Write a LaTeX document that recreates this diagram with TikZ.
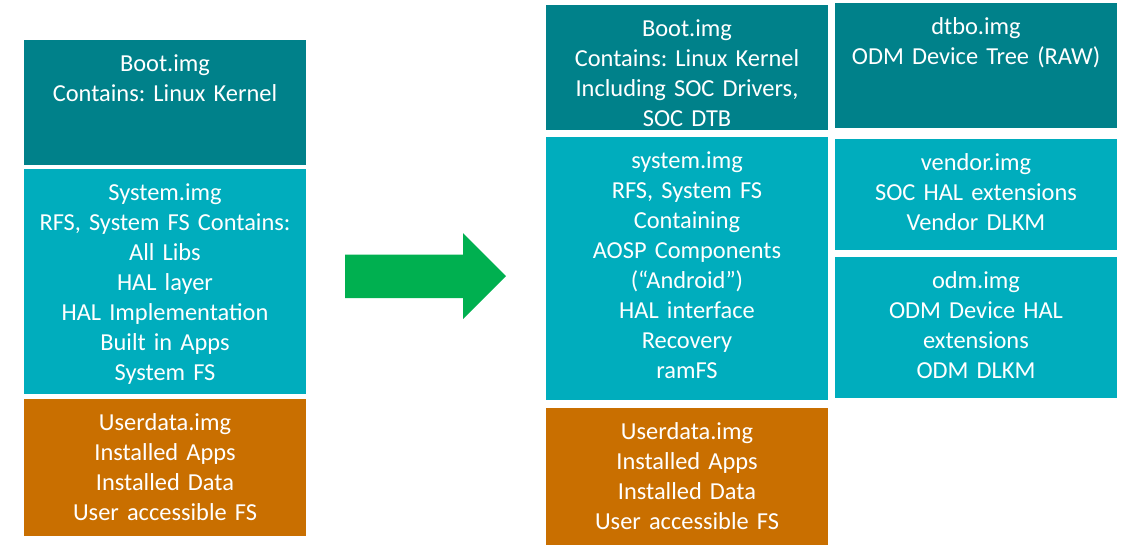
\documentclass[tikz,border=0pt]{standalone}
\usepackage{fontspec}
\setmainfont{Carlito}
\usepackage{xcolor}
\usepackage{tikz}
\usetikzlibrary{positioning}
\frenchspacing

\definecolor{bootteal}{RGB}{0,129,138}
\definecolor{systeal}{RGB}{0,173,189}
\definecolor{userorange}{RGB}{201,111,0}
\definecolor{arrowgreen}{RGB}{0,176,80}

\begin{document}
\begin{tikzpicture}[x=1pt, y=-1pt, node distance=0pt,
    imgbox/.style={anchor=north west, inner sep=0pt, outer sep=0pt, text width=282pt, align=center,
        text=white, font=\fontsize{24.4pt}{30pt}\selectfont, text height=31pt}]
    \useasboundingbox (0,0) rectangle (1122,550);

    % before
    \node [imgbox, fill=bootteal, text depth=94pt] (lboot) at (24,40) {Boot.img\\Contains: Linux Kernel};
    \node [imgbox, fill=systeal, text depth=194pt, below=4pt of lboot] (lsys) {System.img\\RFS, System FS Contains:\\All Libs\\HAL layer\\HAL Implementation\\Built in Apps\\System FS};
    \node [imgbox, fill=userorange, text depth=106pt, below=5pt of lsys] (luser) {Userdata.img\\Installed Apps\\Installed Data\\User accessible FS};

    \fill [arrowgreen] (345,254.7) -- (463,254.7) -- (463,233) -- (506,276) -- (463,319) -- (463,298) -- (345,298) -- cycle;

    % after
    \node [imgbox, fill=bootteal, text depth=94pt] (mboot) at (546,5) {Boot.img\\Contains: Linux Kernel\\Including SOC Drivers,\\SOC DTB};
    \node [imgbox, fill=systeal, text depth=232pt, below=7pt of mboot] (msys) {system.img\\RFS, System FS\\Containing\\AOSP Components\\(“Android”)\\HAL interface\\Recovery\\ramFS};
    \node [imgbox, fill=userorange, text depth=106pt, below=8pt of msys] (muser) {Userdata.img\\Installed Apps\\Installed Data\\User accessible FS};

    \node [imgbox, fill=bootteal, text depth=94pt] (dtbo) at (835,3) {dtbo.img\\ODM Device Tree (RAW)};
    \node [imgbox, fill=systeal, text depth=80pt, below=11pt of dtbo] (vendor) {vendor.img\\SOC HAL extensions\\Vendor DLKM};
    \node [imgbox, fill=systeal, text depth=110pt, below=7pt of vendor] (odm) {odm.img\\ODM Device HAL\\extensions\\ODM DLKM};
\end{tikzpicture}
\end{document}
